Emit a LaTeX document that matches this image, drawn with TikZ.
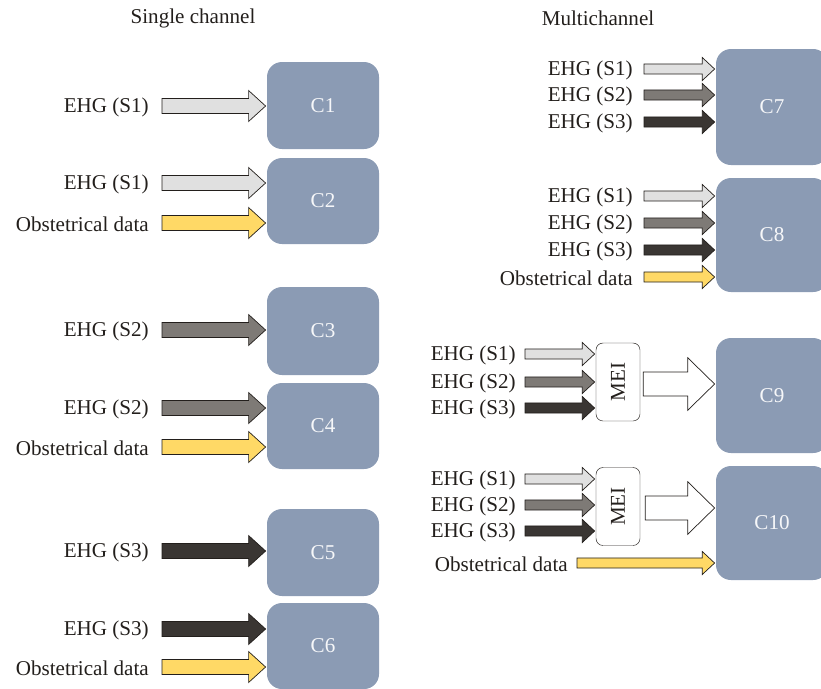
\documentclass[tikz,border=0pt]{standalone}
\usepackage{fontspec}
\setmainfont{Liberation Serif}
\usetikzlibrary{calc}
\definecolor{ink}{HTML}{231F1C}
\definecolor{slate}{HTML}{8B9BB4}
\definecolor{sone}{HTML}{E0E0E0}
\definecolor{stwo}{HTML}{7E7A76}
\definecolor{sthree}{HTML}{3A3633}
\definecolor{obst}{HTML}{FFD966}

% block arrow: style, tail, target node anchor, shaft half, head half, head length
\newcommand\blockarrow[6]{%
  \draw[#1] let \p1=(#2), \p2=(#3) in
    (\x1,\y1+#4) -- (\x2-#6-1pt,\y1+#4) -- (\x2-#6-1pt,\y1+#5)
    -- (\x2-1pt,\y1) -- (\x2-#6-1pt,\y1-#5) -- (\x2-#6-1pt,\y1-#4)
    -- (\x1,\y1-#4) -- cycle;}

\begin{document}
\begin{tikzpicture}[x=0.03cm,y=-0.03cm,font=\fontsize{18}{21}\selectfont,text=ink,
  clf/.style={fill=slate,rounded corners=15*0.85pt,minimum width=112*0.03cm,
    text=white!92!slate,inner sep=0pt},
  mei/.style={draw=ink,fill=white,rounded corners=6pt,minimum width=44*0.03cm,
    minimum height=78*0.03cm,inner sep=0pt},
  lab/.style={anchor=east,inner sep=0pt},
  arr/.style={draw=ink,line width=0.6pt,line join=miter},
  one/.style={arr,fill=sone}, two/.style={arr,fill=stwo},
  three/.style={arr,fill=sthree}, ob/.style={arr,fill=obst},
  big/.style={arr,fill=white}]
  \useasboundingbox (0,0) rectangle (821,688);

  \node (tsingle) at (193,18) {Single channel};
  \node (tmulti) at (598,18) {Multichannel};

  % single channel classifiers
  \node[clf,minimum height=87*0.03cm] (c1) at (323,105.5) {C1};
  \node[clf,minimum height=86*0.03cm] (c2) at (323,201) {C2};
  \node[clf,minimum height=88*0.03cm] (c3) at (323,331) {C3};
  \node[clf,minimum height=86*0.03cm] (c4) at (323,426) {C4};
  \node[clf,minimum height=87*0.03cm] (c5) at (323,552.5) {C5};
  \node[clf,minimum height=86*0.03cm] (c6) at (323,646) {C6};

  \node[lab] (l1) at (149,107) {EHG (S1)};
  \node[lab] (l2a) at (149,184) {EHG (S1)};
  \node[lab] (l2b) at (149,224) {Obstetrical data};
  \node[lab] (l3) at (149,331) {EHG (S2)};
  \node[lab] (l4a) at (149,409) {EHG (S2)};
  \node[lab] (l4b) at (149,448) {Obstetrical data};
  \node[lab] (l5) at (149,552) {EHG (S3)};
  \node[lab] (l6a) at (149,630) {EHG (S3)};
  \node[lab] (l6b) at (149,668) {Obstetrical data};

  \blockarrow{one}{$(l1.east)+(13,-1)$}{c1.west}{6.4pt}{13.2pt}{14.5pt}
  \blockarrow{one}{$(l2a.east)+(13,-1)$}{c2.west}{6.4pt}{13.2pt}{14.5pt}
  \blockarrow{ob}{$(l2b.east)+(13,-1)$}{c2.west}{6.4pt}{13.2pt}{14.5pt}
  \blockarrow{two}{$(l3.east)+(13,-1)$}{c3.west}{6.4pt}{13.2pt}{14.5pt}
  \blockarrow{two}{$(l4a.east)+(13,-1)$}{c4.west}{6.4pt}{13.2pt}{14.5pt}
  \blockarrow{ob}{$(l4b.east)+(13,-1)$}{c4.west}{6.4pt}{13.2pt}{14.5pt}
  \blockarrow{three}{$(l5.east)+(13,-1)$}{c5.west}{6.4pt}{13.2pt}{14.5pt}
  \blockarrow{three}{$(l6a.east)+(13,-1)$}{c6.west}{6.4pt}{13.2pt}{14.5pt}
  \blockarrow{ob}{$(l6b.east)+(13,-1)$}{c6.west}{6.4pt}{13.2pt}{14.5pt}

  % multichannel classifiers
  \node[clf,minimum height=116*0.03cm] (c7) at (772,107) {C7};
  \node[clf,minimum height=114*0.03cm] (c8) at (772,235) {C8};
  \node[clf,minimum height=115*0.03cm] (c9) at (772,395.5) {C9};
  \node[clf,minimum height=114*0.03cm] (c10) at (772,523) {C10};
  \node[mei] (m1) at (618,382) {\rotatebox{90}{MEI}};
  \node[mei] (m2) at (618,506.5) {\rotatebox{90}{MEI}};

  \node[lab] (l7a) at (633,70) {EHG (S1)};
  \node[lab] (l7b) at (633,96) {EHG (S2)};
  \node[lab] (l7c) at (633,123) {EHG (S3)};
  \node[lab] (l8a) at (633,197) {EHG (S1)};
  \node[lab] (l8b) at (633,224) {EHG (S2)};
  \node[lab] (l8c) at (633,251) {EHG (S3)};
  \node[lab] (l8d) at (633,278) {Obstetrical data};
  \node[lab] (l9a) at (516,355) {EHG (S1)};
  \node[lab] (l9b) at (516,383) {EHG (S2)};
  \node[lab] (l9c) at (516,409) {EHG (S3)};
  \node[lab] (l10a) at (516,480) {EHG (S1)};
  \node[lab] (l10b) at (516,506) {EHG (S2)};
  \node[lab] (l10c) at (516,532) {EHG (S3)};
  \node[lab] (l10d) at (568,564) {Obstetrical data};

  \blockarrow{one}{$(l7a.east)+(11,-1)$}{c7.west}{4.3pt}{9.8pt}{10.5pt}
  \blockarrow{two}{$(l7b.east)+(11,-1)$}{c7.west}{4.3pt}{9.8pt}{10.5pt}
  \blockarrow{three}{$(l7c.east)+(11,-1)$}{c7.west}{4.3pt}{9.8pt}{10.5pt}
  \blockarrow{one}{$(l8a.east)+(11,-1)$}{c8.west}{4.3pt}{9.8pt}{10.5pt}
  \blockarrow{two}{$(l8b.east)+(11,-1)$}{c8.west}{4.3pt}{9.8pt}{10.5pt}
  \blockarrow{three}{$(l8c.east)+(11,-1)$}{c8.west}{4.3pt}{9.8pt}{10.5pt}
  \blockarrow{ob}{$(l8d.east)+(11,-1)$}{c8.west}{4.3pt}{9.8pt}{10.5pt}
  \blockarrow{one}{$(l9a.east)+(9,-1)$}{m1.west}{4.3pt}{9.8pt}{10.5pt}
  \blockarrow{two}{$(l9b.east)+(9,-1)$}{m1.west}{4.3pt}{9.8pt}{10.5pt}
  \blockarrow{three}{$(l9c.east)+(9,-1)$}{m1.west}{4.3pt}{9.8pt}{10.5pt}
  \blockarrow{one}{$(l10a.east)+(9,-1)$}{m2.west}{4.3pt}{9.8pt}{10.5pt}
  \blockarrow{two}{$(l10b.east)+(9,-1)$}{m2.west}{4.3pt}{9.8pt}{10.5pt}
  \blockarrow{three}{$(l10c.east)+(9,-1)$}{m2.west}{4.3pt}{9.8pt}{10.5pt}
  \blockarrow{ob}{$(l10d.east)+(9,-1)$}{c10.west}{4.3pt}{9.8pt}{10.5pt}
  \blockarrow{big}{$(m1.east)+(3,2)$}{c9.west}{10.2pt}{22.5pt}{23pt}
  \blockarrow{big}{$(m2.east)+(5,1.5)$}{c10.west}{10.2pt}{22.5pt}{23pt}
\end{tikzpicture}
\end{document}
